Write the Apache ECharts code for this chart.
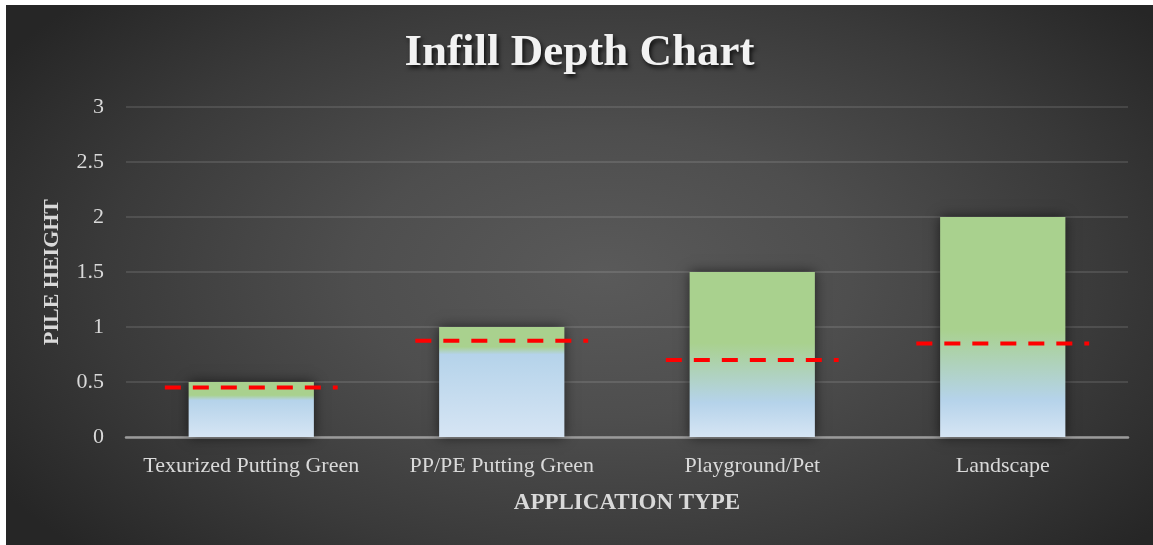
<!DOCTYPE html>
<html>
<head>
<meta charset="utf-8">
<script src="https://cdn.jsdelivr.net/npm/echarts@6/dist/echarts.min.js"></script>
<style>
  html, body { margin: 0; padding: 0; background: #ffffff; }
  #chart {
    position: absolute; left: 6px; top: 5px; width: 1147px; height: 540px;
    background: radial-gradient(ellipse 62% 75% at 52% 50%, #5a5a5a 0%, #4e4e4e 35%, #3a3a3a 70%, #262626 100%);
  }
</style>
</head>
<body>
<div id="chart"></div>
<script>
// ---- data ----
const categories = ['Texurized Putting Green', 'PP/PE Putting Green', 'Playground/Pet', 'Landscape'];
const pileHeight = [0.5, 1, 1.5, 2];
const infillDepth = [0.45, 0.875, 0.7, 0.85];
const yTicks = { min: 0, max: 3, interval: 0.5 };
const titleText = 'Infill Depth Chart';
const xAxisTitle = 'APPLICATION TYPE';
const yAxisTitle = 'PILE HEIGHT';

// ---- style (gradient stops per bar, offset from top of bar) ----
const gradStops = [
  [0.24, 0.33],
  [0.18, 0.25],
  [0.43, 0.79],
  [0.51, 0.83]
];
function barFill(i) {
  const s = gradStops[i];
  return {
    type: 'linear', x: 0, y: 0, x2: 0, y2: 1,
    colorStops: [
      { offset: 0, color: '#a9d18e' },
      { offset: s[0], color: '#a9d18e' },
      { offset: s[1], color: '#b5d3ea' },
      { offset: 1, color: '#d6e5f4' }
    ]
  };
}

const serif = '"Liberation Serif", "Times New Roman", serif';
const chart = echarts.init(document.getElementById('chart'), null, { renderer: 'canvas' });

chart.setOption({
  backgroundColor: 'transparent',
  animation: false,
  title: {
    text: titleText,
    left: 'center',
    top: 21,
    textStyle: {
      fontFamily: serif, fontWeight: 'bold', fontSize: 45, color: '#f2f2f2',
      textShadowColor: 'rgba(0,0,0,0.75)', textShadowBlur: 4,
      textShadowOffsetX: 2, textShadowOffsetY: 3
    }
  },
  grid: { left: 120, right: 25, top: 102, bottom: 108, containLabel: false },
  xAxis: {
    type: 'category',
    data: categories,
    name: xAxisTitle,
    nameLocation: 'middle',
    nameGap: 55,
    nameTextStyle: { fontFamily: serif, fontWeight: 'bold', fontSize: 23, color: '#d9d9d9' },
    axisLine: { show: true, lineStyle: { color: '#9a9a9a', width: 2.5 } },
    axisTick: { show: false },
    axisLabel: { fontFamily: serif, fontSize: 22, color: '#d9d9d9', margin: 18, interval: 0 },
    splitLine: { show: false }
  },
  yAxis: {
    type: 'value',
    min: yTicks.min, max: yTicks.max, interval: yTicks.interval,
    name: yAxisTitle,
    nameLocation: 'middle',
    nameGap: 63,
    nameRotate: 90,
    nameTextStyle: { fontFamily: serif, fontWeight: 'bold', fontSize: 22, color: '#d9d9d9' },
    axisLine: { show: false },
    axisTick: { show: false },
    axisLabel: { fontFamily: serif, fontSize: 22, color: '#d9d9d9', margin: 22 },
    splitLine: { show: true, lineStyle: { color: 'rgba(255,255,255,0.11)', width: 2 } }
  },
  series: [
    {
      name: 'Pile Height',
      type: 'bar',
      barWidth: '50%',
      data: pileHeight.map((v, i) => ({
        value: v,
        itemStyle: {
          color: barFill(i),
          shadowColor: 'rgba(0,0,0,0.6)', shadowBlur: 12, shadowOffsetX: 0, shadowOffsetY: 0
        }
      })),
      z: 2
    },
    {
      name: 'Infill Depth',
      type: 'custom',
      data: infillDepth.map((v, i) => [i, v]),
      renderItem: function (params, api) {
        const p = api.coord([api.value(0), api.value(1)]);
        const band = api.size([1, 0])[0];
        const half = band * 0.345;
        return {
          type: 'line',
          shape: { x1: p[0] - half, y1: p[1], x2: p[0] + half, y2: p[1] },
          style: { stroke: '#ff0000', lineWidth: 4, lineDash: [16, 12], lineCap: 'butt' }
        };
      },
      z: 5
    }
  ]
});
</script>
</body>
</html>
